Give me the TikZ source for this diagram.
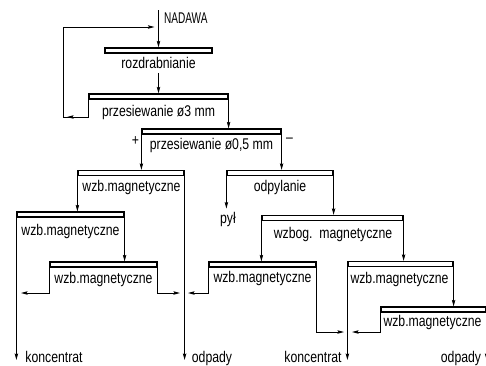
\documentclass[tikz,border=0pt]{standalone}
\usepackage{fontspec}
\setmainfont{Liberation Sans}[FakeStretch=0.79]
\usetikzlibrary{arrows.meta}
\newcommand{\cadsize}{\fontsize{15.5}{17}\selectfont}
\tikzset{
    stage bar/.style={rectangle, draw=black, line width=1.2pt, fill=white,
        minimum height=5pt, inner sep=0pt},
    stage label/.style={font=\cadsize, inner sep=1pt},
    out label/.style={font=\cadsize, inner sep=1pt},
    conn/.style={draw=black, line width=0.9pt},
    flow/.style={conn, -{Stealth[length=6.5pt, width=3.4pt, inset=1pt]}},
    merge/.style={flow, shorten >=4pt},
}

\begin{document}
\begin{tikzpicture}[x=1pt, y=-1pt]

\useasboundingbox (0,0) rectangle (486,365);

% ===== STAGE BARS =====
\node[stage bar, minimum width=107pt] (rozd) at (158.5, 50.5) {};
\node[stage bar, minimum width=139pt] (sito3) at (158.5, 96.5) {};
\node[stage bar, minimum width=139pt] (sito05) at (211.5, 131.5) {};
\node[stage bar, minimum width=106pt] (mag1) at (131, 173) {};
\node[stage bar, minimum width=106pt] (odpyl) at (280, 173) {};
\node[stage bar, minimum width=107pt] (mag2) at (70.5, 214.5) {};
\node[stage bar, minimum width=141pt] (wzbog) at (332.5, 218) {};
\node[stage bar, minimum width=107pt] (mag3) at (103.5, 264.5) {};
\node[stage bar, minimum width=107pt] (mag4) at (262.5, 264.5) {};
\node[stage bar, minimum width=105pt] (mag5) at (400.5, 264) {};
\node[stage bar, minimum width=105pt] (mag6) at (433.5, 309.5) {};

% ===== STAGE LABELS =====
\node[stage label] (rozdL) at (158.5, 63) {rozdrabnianie};
\node[stage label] (sito3L) at (158.5, 112) {przesiewanie ø3 mm};
\node[stage label] (sito05L) at (211.5, 145.5) {przesiewanie ø0,5 mm};
\node[stage label] (plus) at (135.5, 141.5) {+};
\node[stage label] (minus) at (289.5, 140) {–};
\node[stage label] (mag1L) at (131.5, 187.5) {wzb.magnetyczne};
\node[stage label] (odpylL) at (280, 187) {odpylanie};
\node[stage label] (mag2L) at (70.5, 231) {wzb.magnetyczne};
\node[stage label] (wzbogL) at (333, 234) {wzbog.~~magnetyczne};
\node[stage label] (mag3L) at (103.5, 279) {wzb.magnetyczne};
\node[stage label] (mag4L) at (262.5, 278) {wzb.magnetyczne};
\node[stage label] (mag5L) at (399.5, 279) {wzb.magnetyczne};
\node[stage label] (mag6L) at (432.5, 322.5) {wzb.magnetyczne};

% ===== INPUT / OUTPUTS =====
\node[out label, anchor=west] (nadawa) at (163, 18) {\scalebox{0.82}[1]{NADAWA}};
\node[out label] (pyl) at (228, 219) {pył};
\node[out label] (kon1L) at (54, 357) {koncentrat};
\node[out label] (odp1L) at (212, 358) {odpady};
\node[out label] (kon2L) at (313, 357) {koncentrat};
\node[out label] (odp2L) at (461, 358) {odpady};

\coordinate (feed) at (158.5, 10);
\coordinate (retB) at (63, 117);
\coordinate (retT) at (63, 27);
\coordinate (kon1) at (17, 360);
\coordinate (odp1) at (184, 360);
\coordinate (kon2) at (348, 360);
\coordinate (odp2) at (485.5, 360);
\coordinate (jkon1) at (17, 293);
\coordinate (jodp1) at (184, 293);
\coordinate (jkon2) at (348, 332);

% ===== EDGES =====
\draw[flow] (feed) -- (feed |- rozd.north);
\draw[flow, shorten <=3pt] (rozdL.south) -- (rozdL.south |- sito3.north);
\draw[conn] (sito3.south west) |- (retB) -- (retT);
\draw[merge] (sito3.south west) |- (retB);
\draw[merge] (retT) -- (retT -| feed);
\draw[flow] (sito3.south east) -- (sito3.south east |- sito05.north);
\draw[flow] (sito05.south west) -- (sito05.south west |- mag1.north);
\draw[flow] (sito05.south east) -- (sito05.south east |- odpyl.north);
\draw[flow] (mag1.south west) -- (mag1.south west |- mag2.north);
\draw[flow] (mag1.south east) -- (mag1.south east |- odp1);
\draw[flow] (mag2.south west) -- (mag2.south west |- kon1);
\draw[flow] (mag2.south east) -- (mag2.south east |- mag3.north);
\draw[merge] (mag3.south west) |- (jkon1);
\draw[merge] (mag3.south east) |- (jodp1);
\draw[flow, shorten >=2pt] (odpyl.south west) -- (odpyl.south west |- pyl.north);
\draw[flow] (odpyl.south east) -- (odpyl.south east |- wzbog.north);
\draw[flow] (wzbog.south west) -- (wzbog.south west |- mag4.north);
\draw[flow] (wzbog.south east) -- (wzbog.south east |- mag5.north);
\draw[merge] (mag4.south west) |- (jodp1);
\draw[merge] (mag4.south east) |- (jkon2);
\draw[flow] (mag5.south west) -- (mag5.south west |- kon2);
\draw[flow] (mag5.south east) -- (mag5.south east |- mag6.north);
\draw[merge] (mag6.south west) |- (jkon2);
\draw[flow] (mag6.south east) -- (mag6.south east |- odp2);

\end{tikzpicture}
\end{document}
